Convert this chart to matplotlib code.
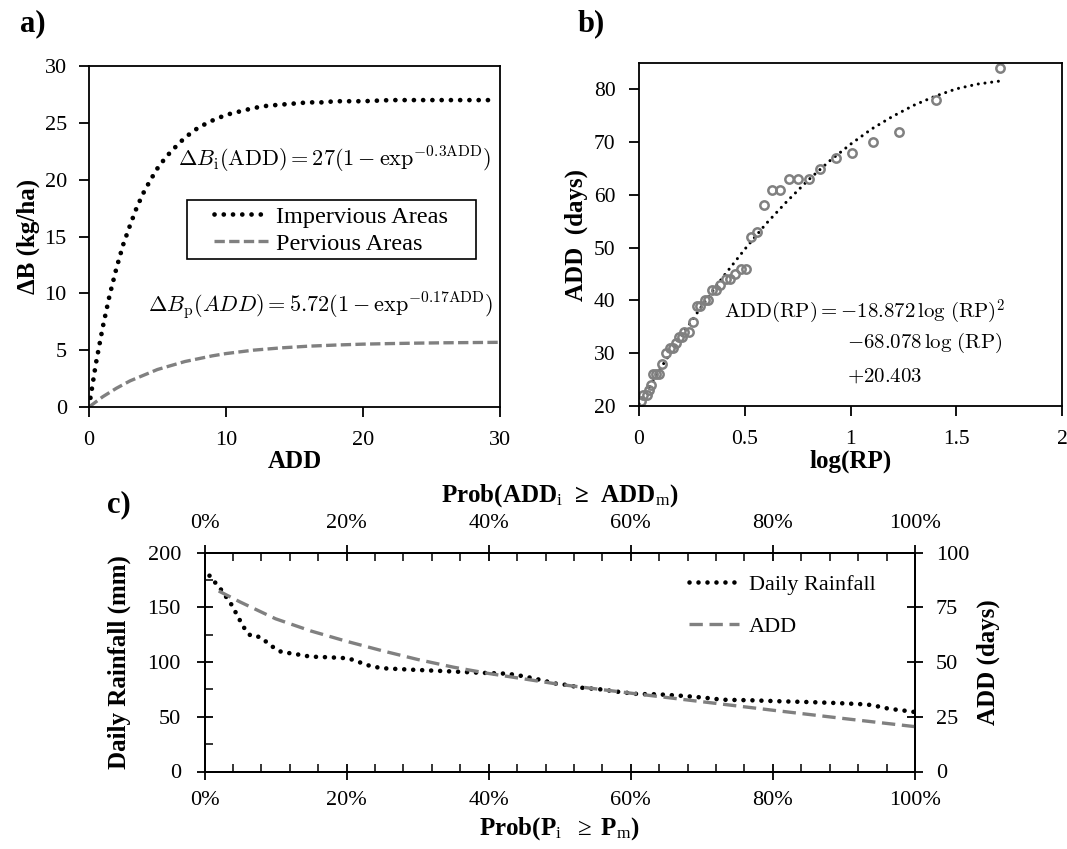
import numpy as np
import matplotlib.pyplot as plt
from matplotlib.patches import Rectangle
from matplotlib.ticker import MultipleLocator, FuncFormatter

plt.rcParams.update({
    "font.family": "serif",
    "font.serif": ["Liberation Serif", "DejaVu Serif"],
    "mathtext.fontset": "cm",
    "mathtext.rm": "Liberation Serif",
    "mathtext.it": "Liberation Serif:italic",
    "mathtext.bf": "Liberation Serif:bold",
    "axes.linewidth": 1.3,
    "xtick.major.width": 1.3,
    "ytick.major.width": 1.3,
    "xtick.minor.width": 1.1,
    "ytick.minor.width": 1.1,
    "font.size": 15,
})

# ---- panel a: build-up curves ----
add_imp = [0, 0.5, 1, 1.5, 2, 2.5, 3, 3.5, 4, 4.5, 5, 5.5, 6, 7, 8, 9, 10, 11, 12,
           13, 14, 15, 16, 17, 18, 19, 20, 22, 24, 26, 28, 29.5]
db_imp = [0, 3.8, 7.0, 9.8, 12.2, 14.3, 16.0, 17.6, 18.9, 20.0, 21.0, 21.8, 22.5,
          23.7, 24.6, 25.2, 25.7, 26.0, 26.3, 26.5, 26.6, 26.7, 26.8, 26.8, 26.9,
          26.9, 26.9, 27.0, 27.0, 27.0, 27.0, 27.0]
add_per = [0, 1, 2, 3, 4, 5, 6, 7, 8, 9, 10, 12, 14, 16, 18, 20, 22, 24, 26, 28, 30]
db_per = [0, 0.9, 1.65, 2.3, 2.8, 3.3, 3.65, 4.0, 4.25, 4.5, 4.7, 5.0, 5.2, 5.35,
          5.45, 5.53, 5.58, 5.62, 5.65, 5.67, 5.69]

# ---- panel b: ADD vs log(RP) ----
log_rp = [0.01, 0.02, 0.036, 0.049, 0.055, 0.065, 0.08, 0.096, 0.11, 0.13, 0.145,
          0.16, 0.175, 0.188, 0.205, 0.215, 0.235, 0.255, 0.273, 0.29, 0.31, 0.325,
          0.344, 0.365, 0.383, 0.41, 0.43, 0.456, 0.484, 0.507, 0.53, 0.56, 0.59,
          0.628, 0.667, 0.707, 0.754, 0.803, 0.858, 0.93, 1.006, 1.106, 1.229,
          1.405, 1.705]
add_obs = [21, 22, 22, 23, 24, 26, 26, 26, 28, 30, 31, 31, 32, 33, 33, 34, 34, 36,
           39, 39, 40, 40, 42, 42, 43, 44, 44, 45, 46, 46, 52, 53, 58, 61, 61, 63,
           63, 63, 65, 67, 68, 70, 72, 78, 84]
fit_x = [0, 0.1, 0.2, 0.3, 0.4, 0.5, 0.6, 0.7, 0.8, 0.9, 1.0, 1.1, 1.2, 1.3, 1.4,
         1.5, 1.6, 1.71]
fit_y = [20.4, 27.0, 33.3, 39.1, 44.6, 49.7, 54.5, 58.8, 62.8, 66.4, 69.6, 72.5,
         74.9, 77.0, 78.7, 80.1, 81.0, 81.6]

# ---- panel c: exceedance curves ----
p_rain = [0.7, 2.3, 3.8, 5.0, 5.7, 6.5, 7.8, 9.8, 10.9, 12.2, 14.9, 17.5, 20.2,
          21.5, 22.7, 24.0, 25.3, 29.3, 33.3, 38.6, 42.6, 43.9, 45.2, 47.8, 49.1,
          50.4, 53.0, 55.7, 58.4, 61.0, 63.7, 67.6, 70.3, 72.9, 76.9, 80.9, 84.9,
          88.9, 92.9, 94.2, 95.5, 96.9, 98.2, 99.8]
rain = [179, 166.5, 152.5, 138, 130, 124, 123, 113, 109, 108, 105, 104.4, 103.5,
        100.7, 97.6, 95.5, 94.3, 93, 91.9, 90.3, 89.4, 88.2, 86.7, 83, 80.6, 79.7,
        76.6, 75.1, 72.7, 70.8, 70.6, 69, 67.5, 65.6, 65.1, 64.2, 63.5, 62.6, 61.4,
        60.5, 58.3, 56.9, 55.9, 54.5]
p_add = [2, 5, 10, 15, 20, 25, 30, 35, 40, 50, 60, 70, 80, 90, 100]
add_days = [82.5, 77.5, 69.8, 64.2, 59.5, 55.2, 51.2, 47.7, 44.8, 39.8, 35.8, 31.9,
            28.0, 24.2, 20.5]

W, H = 1067, 849
GRAY = "#808080"
dot_style = dict(linestyle=(0, (0.01, 1.95)), dash_capstyle="round")


def box(l, t, r, b):
    return [l / W, 1 - b / H, (r - l) / W, (b - t) / H]


fig = plt.figure(figsize=(W / 100, H / 100), dpi=100)

# ================= a) =================
ax = fig.add_axes(box(89, 66, 500, 407))
ax.plot(add_imp, db_imp, color="black", lw=3.4, label="Impervious Areas", **dot_style)
ax.plot(add_per, db_per, color=GRAY, lw=2.4, linestyle=(0, (3.1, 1.3)),
        label="Pervious Areas")
ax.set_xlim(0, 30)
ax.set_ylim(0, 30)
ax.xaxis.set_major_locator(MultipleLocator(10))
ax.yaxis.set_major_locator(MultipleLocator(5))
ax.tick_params(direction="out", length=7, labelsize=16)
ax.tick_params(axis="x", pad=10)
ax.tick_params(axis="y", pad=9)
ax.set_xlabel("ADD", fontweight="bold", fontsize=18, labelpad=0)
ax.set_ylabel("ΔB (kg/ha)", fontweight="bold", fontsize=18, labelpad=3)
ax.text(6.5, 21.2, r"$\Delta B_\mathrm{i}(\mathrm{ADD}) = 27(1 - \mathrm{exp}^{-0.3\mathrm{ADD}})$",
        fontsize=16, ha="left", va="baseline")
ax.text(4.3, 8.4, r"$\Delta B_\mathrm{p}(ADD) = 5.72(1 - \mathrm{exp}^{-0.17\mathrm{ADD}})$",
        fontsize=16, ha="left", va="baseline")
ax.add_patch(Rectangle((0.2384, 0.434), 0.703, 0.173, transform=ax.transAxes,
                       facecolor="white", edgecolor="black", lw=1.2, zorder=3))
leg = ax.legend(loc="upper left", bbox_to_anchor=(0.305, 0.59), borderaxespad=0,
                frameon=False, fontsize=17.5, handlelength=2.2, handletextpad=0.33,
                labelspacing=0.2, borderpad=0)
leg.set_zorder(4)
fig.text(20 / W, 1 - 24 / H, "a)", fontsize=22, fontweight="bold", va="center")

# ================= b) =================
bx = fig.add_axes(box(639, 63, 1062, 406))
bx.plot(fit_x, fit_y, color="black", lw=2.2, linestyle=(0, (0.01, 2.2)),
        dash_capstyle="round")
bx.plot(log_rp, add_obs, linestyle="none", marker="o", markersize=6,
        markerfacecolor="none", markeredgecolor=GRAY, markeredgewidth=1.8)
bx.set_xlim(0, 2)
bx.set_ylim(20, 85)
bx.xaxis.set_major_locator(MultipleLocator(0.5))
bx.yaxis.set_major_locator(MultipleLocator(10))
bx.xaxis.set_major_formatter(FuncFormatter(lambda v, p: "%g" % v))
bx.tick_params(direction="out", length=7, labelsize=15.5)
bx.tick_params(axis="x", pad=10)
bx.tick_params(axis="y", pad=10)
bx.set_xlabel("log(RP)", fontweight="bold", fontsize=18, labelpad=1)
bx.set_ylabel("ADD  (days)", fontweight="bold", fontsize=18, labelpad=4)
bx.text(0.40, 36.8, r"$\mathrm{ADD(RP)} = -18.872\,\log\,(\mathrm{RP})^2$",
        fontsize=15, ha="left", va="baseline")
bx.text(0.985, 31.0, r"$-68.078\,\log\,(\mathrm{RP})$", fontsize=15, ha="left",
        va="baseline")
bx.text(0.985, 24.6, r"$+20.403$", fontsize=15, ha="left", va="baseline")
fig.text(578 / W, 1 - 24 / H, "b)", fontsize=22, fontweight="bold", va="center")

# ================= c) =================
cx = fig.add_axes(box(204.5, 552.7, 915, 771.5))
cr = cx.twinx()
ct = cr.twiny()
l1, = cx.plot(p_rain, rain, color="black", lw=3.3, label="Daily Rainfall", **dot_style)
l2, = ct.plot(p_add, add_days, color=GRAY, lw=2.4, linestyle=(0, (4, 2)),
              label="ADD")
pct = FuncFormatter(lambda v, p: "%d%%" % round(v))
for a in (cx, ct):
    a.set_xlim(0, 100)
    a.xaxis.set_major_locator(MultipleLocator(20))
    a.xaxis.set_minor_locator(MultipleLocator(4))
    a.xaxis.set_major_formatter(pct)
    a.tick_params(axis="x", which="major", direction="inout", length=12,
                  labelsize=16, pad=8)
    a.tick_params(axis="x", which="minor", direction="in", length=6)
cx.set_ylim(0, 200)
cx.yaxis.set_major_locator(MultipleLocator(50))
cx.yaxis.set_minor_locator(MultipleLocator(25))
cx.tick_params(axis="y", which="major", direction="inout", length=12, labelsize=16,
               pad=11)
cx.tick_params(axis="y", which="minor", direction="in", length=6)
cr.set_ylim(0, 100)
cr.yaxis.set_major_locator(MultipleLocator(25))
cr.tick_params(axis="y", which="major", direction="inout", length=12, labelsize=16,
               pad=9)
ct.set_ylim(0, 100)

cx.set_xlabel(r"Prob(P$_\mathrm{i}$  $\geq$ P$_\mathrm{m}$)", fontweight="bold",
              fontsize=18, labelpad=4, math_fontfamily="custom")
ct.set_xlabel(r"Prob(ADD$_\mathrm{i}$  ≥  ADD$_\mathrm{m}$)", fontweight="bold",
              fontsize=18, labelpad=9, math_fontfamily="custom")
cx.set_ylabel("Daily Rainfall (mm)", fontweight="bold", fontsize=18, labelpad=12)
cr.set_ylabel("ADD (days)", fontweight="bold", fontsize=18, labelpad=5)
ct.legend(handles=[l1, l2], loc="upper left", bbox_to_anchor=(0.682, 0.9),
          frameon=False, fontsize=16, handlelength=2.25, handletextpad=0.45,
          labelspacing=0.95, borderaxespad=0, borderpad=0)
fig.text(107 / W, 1 - 505 / H, "c)", fontsize=22, fontweight="bold", va="center")

fig.savefig("out.png", dpi=100)
